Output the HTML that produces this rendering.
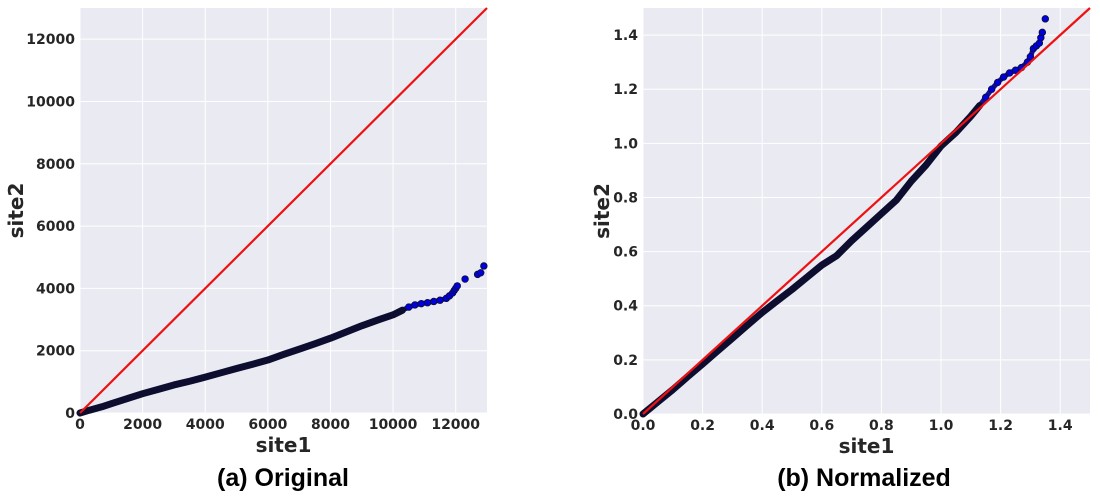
<!DOCTYPE html>
<html><head><meta charset="utf-8"><style>
body{margin:0;background:#fff;width:1100px;height:494px;overflow:hidden}
svg text{font-family:"DejaVu Sans","Liberation Sans",sans-serif;font-weight:bold;fill:#262626}
</style></head><body>
<svg id="chart" width="1100" height="494" xmlns="http://www.w3.org/2000/svg"></svg>
<script>
const leftX=[0,300,700,1000,1500,2000,2500,3000,3500,4000,4500,5000,5500,6000,6500,7000,7500,8000,8500,9000,9500,10000,10300,10500,10700,10900,11100,11300,11500,11700,11800,11900,11950,12000,12050,12300,12700,12800,12900];
const leftY=[0,90,200,300,460,620,760,900,1020,1150,1290,1430,1560,1700,1880,2050,2220,2400,2600,2800,2980,3150,3300,3400,3470,3510,3540,3580,3620,3680,3760,3850,3930,4000,4080,4300,4450,4500,4720];
const leftTicks=[0,2000,4000,6000,8000,10000,12000];
const leftBandEnd=10400;
const leftTailEnd=12050;
const rightX=[0,0.05,0.1,0.15,0.2,0.25,0.3,0.35,0.4,0.45,0.5,0.55,0.6,0.65,0.7,0.75,0.8,0.85,0.9,0.95,1.0,1.05,1.1,1.13,1.15,1.17,1.19,1.21,1.23,1.25,1.27,1.29,1.3,1.31,1.32,1.33,1.335,1.34,1.35];
const rightY=[0,0.045,0.09,0.138,0.185,0.233,0.28,0.328,0.375,0.418,0.46,0.505,0.55,0.585,0.64,0.69,0.74,0.79,0.86,0.92,0.99,1.04,1.1,1.14,1.17,1.2,1.225,1.245,1.26,1.27,1.28,1.3,1.32,1.35,1.36,1.37,1.39,1.41,1.46];
const rightTicks=[0,0.2,0.4,0.6,0.8,1.0,1.2,1.4];
const rightBandEnd=1.14;
const rightTailEnd=1.34;
const NS="http://www.w3.org/2000/svg";
const svg=document.getElementById('chart');
function mk(tag,attrs,parent){const e=document.createElementNS(NS,tag);for(const k in attrs)e.setAttribute(k,attrs[k]);(parent||svg).appendChild(e);return e;}
function panel(p){
  const g=mk('g',{});
  
  
  const sx=v=>p.x0+(v-p.min)/(p.max-p.min)*(p.x1-p.x0);
  const sy=v=>p.y0-(v-p.min)/(p.max-p.min)*(p.y0-p.y1);
  const bg=mk('rect',{x:p.x0,y:p.y1,width:p.x1-p.x0,height:p.y0-p.y1,fill:'#eaeaf2'},g);
  
  
  p.ticks.forEach(t=>{
    mk('line',{x1:sx(t),x2:sx(t),y1:p.y1,y2:p.y0,stroke:'#fff','stroke-width':1},g);
    mk('line',{x1:p.x0,x2:p.x1,y1:sy(t),y2:sy(t),stroke:'#fff','stroke-width':1},g);
    const xt=mk('text',{x:sx(t),y:p.y0+16,'text-anchor':'middle','font-size':14},g);xt.textContent=p.fmt(t);
    
    
    const yt=mk('text',{x:p.x0-5,y:sy(t)+5,'text-anchor':'end','font-size':14},g);yt.textContent=p.fmt(t);
    
    
  });
  let last=0;
  let d='';let k=0;p.xs.forEach((x,i)=>{if(x<=p.bandEnd){d+=(k++?'L':'M')+sx(x)+' '+sy(p.ys[i]);last=i;}});
  let d2='';let k2=0;p.xs.forEach((x,i)=>{if(i>=last&&x<=p.tailEnd){d2+=(k2++?'L':'M')+sx(x)+' '+sy(p.ys[i]);}});
  const tl=mk('path',{d:d2,fill:'none',stroke:'#1010a0','stroke-width':5,'stroke-linejoin':'round','stroke-linecap':'round'},g);
  
  
  const ln=mk('path',{d:d,fill:'none',stroke:'#0d0d30','stroke-width':7,'stroke-linejoin':'round','stroke-linecap':'round'},g);
  
  
  p.xs.forEach((x,i)=>{
    if(x<=p.bandEnd) return;
    const c=mk('circle',{cx:sx(x),cy:sy(p.ys[i]),r:3.3,fill:'#0000dd',stroke:'#0d0d30','stroke-width':0.8},g);
    
    
  });
  const ref=mk('line',{x1:sx(p.min),y1:sy(p.min),x2:sx(p.max),y2:sy(p.max),stroke:'#ee1111','stroke-width':2.2},g);
  
  
  const xl=mk('text',{x:(p.x0+p.x1)/2,y:p.y0+39,'text-anchor':'middle','font-size':20},g);xl.textContent='site1';
  
  
  const yl=mk('text',{x:p.ylx,y:(p.y0+p.y1)/2,'text-anchor':'middle','font-size':20,transform:`rotate(-90 ${p.ylx} ${(p.y0+p.y1)/2})`},g);yl.textContent='site2';
  
  
  const cap=mk('text',{x:p.capx,y:486,'text-anchor':'middle','font-size':25,style:'font-family:"Liberation Sans",sans-serif;fill:#000'},g);cap.textContent=p.cap;
  
  
}
panel({name:'original-panel',x0:80,x1:487,y0:413,y1:8,min:0,max:13000,ticks:leftTicks,xs:leftX,ys:leftY,bandEnd:leftBandEnd,tailEnd:leftTailEnd,fmt:t=>String(t),ylx:23,capx:283,cap:'(a)  Original'});
panel({name:'normalized-panel',x0:643,x1:1090,y0:414,y1:8,min:0,max:1.5,ticks:rightTicks,xs:rightX,ys:rightY,bandEnd:rightBandEnd,tailEnd:rightTailEnd,fmt:t=>t.toFixed(1),ylx:609,capx:864,cap:'(b)  Normalized'});
</script>
</body></html>
